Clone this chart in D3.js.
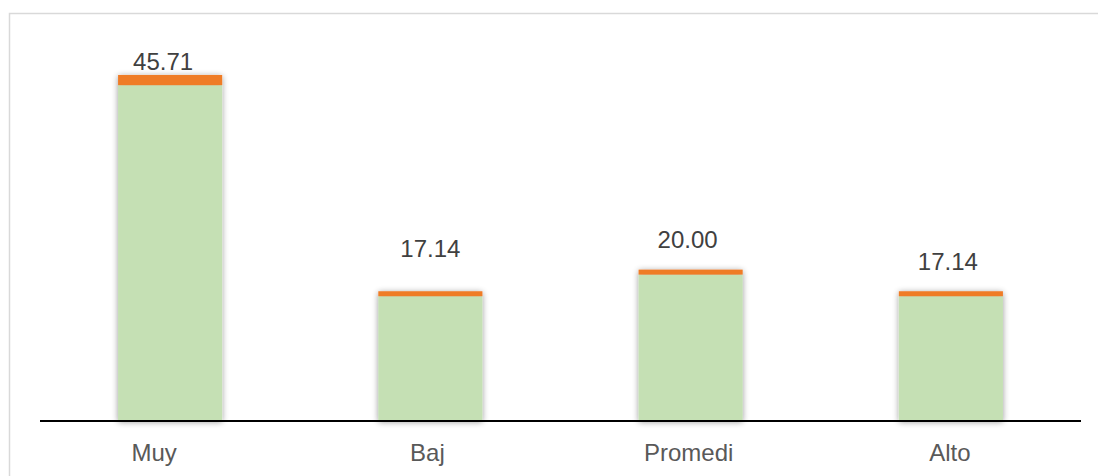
<!DOCTYPE html>
<html>
<head>
<meta charset="utf-8">
<script src="https://cdn.jsdelivr.net/npm/d3@7"></script>
<style>
  html, body { margin: 0; padding: 0; background: #fff; }
  svg { display: block; font-family: "Liberation Sans", Arial, sans-serif; }
</style>
</head>
<body>
<div id="chart"></div>
<script>
// ── Data ──
const categories = ['Muy', 'Baj', 'Promedi', 'Alto'];
const values = [45.71, 17.14, 20.00, 17.14];
const capValues = [1.35, 0.66, 0.66, 0.66];   // orange top segment

const W = 1098, H = 476;
const baseY = 421;

const svg = d3.select('#chart').append('svg')
  .attr('width', W).attr('height', H);

// shadow filter for bars
const defs = svg.append('defs');
const f = defs.append('filter').attr('id', 'shadow')
  .attr('x', '-20%').attr('y', '-20%').attr('width', '140%').attr('height', '140%');
f.append('feGaussianBlur').attr('in', 'SourceAlpha').attr('stdDeviation', 3).attr('result', 'b');
f.append('feOffset').attr('in', 'b').attr('dx', 0).attr('dy', 1).attr('result', 'o');
f.append('feComponentTransfer').attr('in', 'o').attr('result', 's')
  .append('feFuncA').attr('type', 'linear').attr('slope', 0.4);
const m = f.append('feMerge');
m.append('feMergeNode').attr('in', 's');
m.append('feMergeNode').attr('in', 'SourceGraphic');

// chart border
svg.append('rect')
  .attr('x', 9.5).attr('y', 13.5).attr('width', W + 10).attr('height', H + 10)
  .attr('fill', 'none').attr('stroke', '#d9d9d9').attr('stroke-width', 1.5);

const x = d3.scaleBand().domain(categories).range([40, 1081]).paddingInner(0.6).paddingOuter(0.3);
const y = d3.scaleLinear().domain([0, 50]).range([baseY, baseY - 50 * 7.57]);

const bars = svg.append('g').selectAll('g').data(categories).enter().append('g')
  .attr('filter', 'url(#shadow)');

bars.append('rect')
  .attr('x', d => x(d)).attr('width', x.bandwidth())
  .attr('y', (d, i) => y(values[i] - capValues[i]))
  .attr('height', (d, i) => baseY - y(values[i] - capValues[i]))
  .attr('fill', '#c5e0b4');

bars.append('rect')
  .attr('x', d => x(d)).attr('width', x.bandwidth())
  .attr('y', (d, i) => y(values[i]))
  .attr('height', (d, i) => y(values[i] - capValues[i]) - y(values[i]))
  .attr('fill', '#ef7b26');

// baseline
svg.append('line')
  .attr('x1', 40).attr('x2', 1081).attr('y1', baseY).attr('y2', baseY)
  .attr('stroke', '#000').attr('stroke-width', 2);

// value labels (manually moved in the original)
const labelLift = [5, 34, 22, 21];
const labelShift = [-7, 0, -3, -3];
svg.append('g').selectAll('text').data(categories).enter().append('text')
  .attr('x', (d, i) => x(d) + x.bandwidth() / 2 + labelShift[i])
  .attr('y', (d, i) => y(values[i]) - labelLift[i])
  .attr('text-anchor', 'middle')
  .style('font-size', '24px').style('fill', '#404040')
  .text((d, i) => values[i].toFixed(2));

// category labels (truncated text sits a bit left in the original)
const catShift = [-16, -3, -2, -1];
svg.append('g').selectAll('text').data(categories).enter().append('text')
  .attr('x', (d, i) => x(d) + x.bandwidth() / 2 + catShift[i])
  .attr('y', 461)
  .attr('text-anchor', 'middle')
  .style('font-size', '24px').style('fill', '#595959')
  .text(d => d);
</script>
</body>
</html>
